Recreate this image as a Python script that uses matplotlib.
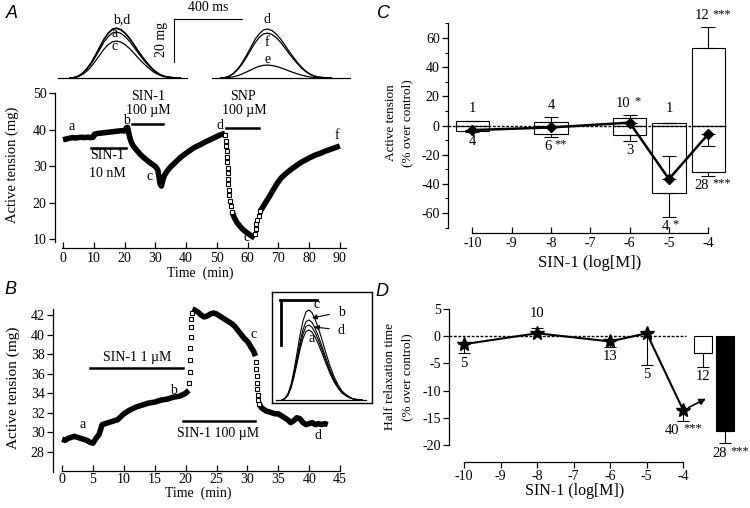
import matplotlib
matplotlib.use('Agg')
import matplotlib.pyplot as plt
import numpy as np

plt.rcParams['font.family'] = ['Liberation Serif', 'DejaVu Serif']
plt.rcParams['font.size'] = 10
plt.rcParams['axes.unicode_minus'] = False

# ---------------- data ----------------
# Panel A, top: normalised twitch shape (time in ms)
TW_T = [0, 25, 50, 75, 100, 125, 150, 175, 200, 225, 250, 275, 300, 325, 350,
        375, 400, 425, 450, 475, 500, 525, 550, 575, 600, 625, 650]
TW_V = [0, 0.01, 0.04, 0.10, 0.19, 0.31, 0.46, 0.62, 0.78, 0.90, 0.98, 1.0, 0.97,
        0.90, 0.80, 0.68, 0.55, 0.43, 0.32, 0.22, 0.14, 0.08, 0.04, 0.02, 0.01, 0.0, 0.0]
A_TW_LEFT_LABELS = ['a', 'b', 'c', 'd']
A_TW_LEFT_AMP = [21.4, 23.3, 17.2, 23.0]      # mg
A_TW_RIGHT_LABELS = ['d', 'f', 'e']
A_TW_RIGHT_AMP = [22.8, 20.9, 6.0]            # mg

# Panel A, main trace (time in min, active tension in mg)
A_t1 = [0, 1, 2, 3, 4, 5, 6, 7, 8, 9, 9.8, 10.2, 11, 12, 13, 14, 15, 16, 17, 18,
        19, 20, 20.6, 21.0, 21.5, 22.0, 22.5, 23, 24, 25, 26, 27, 28, 29, 30, 30.8,
        31.2, 31.6, 32.0, 32.4, 33, 34, 35, 36, 37, 38, 39, 40, 41, 42, 43, 44, 45,
        46, 47, 48, 49, 50, 51, 52, 52.7]
A_v1 = [37.2, 37.4, 37.6, 37.8, 37.7, 37.8, 37.9, 37.8, 37.9, 37.8, 37.9, 38.7,
        38.9, 39.0, 39.1, 39.2, 39.3, 39.4, 39.5, 39.6, 39.7, 39.6, 40.5, 40.6,
        38.5, 37.0, 36.0, 35.3, 34.3, 33.3, 32.5, 31.8, 31.1, 30.5, 29.9, 29.0,
        27.0, 25.0, 24.5, 26.0, 27.5, 28.8, 29.8, 30.6, 31.4, 32.2, 32.9, 33.5,
        34.1, 34.7, 35.2, 35.6, 36.0, 36.5, 36.9, 37.3, 37.7, 38.1, 38.5, 38.8, 39.0]
A_t2 = [52.8, 53.0, 53.1, 53.2, 53.3, 53.4, 53.5, 53.6, 53.7, 53.8, 53.9, 54.1,
        54.3, 54.6, 55.0]
A_v2 = [38.5, 37.0, 35.5, 34.0, 32.5, 31.0, 29.5, 28.0, 26.5, 25.0, 23.5, 22.0,
        20.5, 19.0, 17.5]
A_t3 = [55.0, 55.5, 56.5, 57.5, 58.5, 59.5, 60.5, 61.5, 62.3]
A_v3 = [17.5, 16.2, 14.6, 13.5, 12.6, 11.9, 11.3, 10.7, 10.3]
A_t4 = [62.5, 62.7, 62.9, 63.2, 63.6, 64.1]
A_v4 = [11.5, 12.8, 14.0, 15.2, 16.4, 17.6]
A_t5 = [64.1, 65, 66, 67, 68, 69, 70, 71, 72, 73, 74, 75, 76, 77, 78, 79, 80, 81,
        82, 83, 84, 85, 86, 87, 88, 89, 90]
A_v5 = [17.6, 18.8, 20.2, 21.5, 23.0, 24.4, 25.7, 26.8, 27.6, 28.3, 29.0, 29.6,
        30.2, 30.8, 31.3, 31.7, 32.2, 32.6, 33.0, 33.3, 33.6, 34.0, 34.3, 34.6,
        34.9, 35.2, 35.5]

# Panel B, main trace
B_t1 = [0, 0.5, 1, 1.5, 2, 2.5, 3, 3.5, 4, 4.5, 5, 5.5, 6, 6.5, 7, 8, 9, 10, 11,
        12, 13, 14, 15, 16, 17, 18, 19, 20, 20.5]
B_v1 = [29.3, 29.2, 29.4, 29.5, 29.6, 29.5, 29.4, 29.3, 29.2, 29.0, 28.9, 29.4,
        29.8, 30.8, 30.9, 31.1, 31.3, 31.9, 32.3, 32.6, 32.8, 33.0, 33.1, 33.3,
        33.4, 33.6, 33.7, 34.0, 34.3]
B_t2 = [20.6, 20.65, 20.7, 20.75, 20.8, 20.85, 20.9, 21.0]
B_v2 = [35.0, 36.2, 37.4, 38.6, 39.8, 40.8, 41.6, 42.2]
B_t3 = [21.1, 21.5, 22, 22.5, 23, 23.5, 24, 24.5, 25, 25.5, 26, 26.5, 27, 27.5,
        28, 28.5, 29, 29.5, 30, 30.5, 31, 31.3]
B_v3 = [42.6, 42.5, 42.3, 42.0, 41.8, 41.9, 42.1, 42.2, 42.1, 41.9, 41.7, 41.5,
        41.3, 41.1, 40.8, 40.4, 40.0, 39.6, 39.3, 38.8, 38.3, 37.8]
B_t4 = [31.4, 31.45, 31.5, 31.55, 31.6, 31.65, 31.7, 31.8]
B_v4 = [37.2, 36.5, 35.8, 35.1, 34.4, 33.8, 33.3, 32.9]
B_t5 = [31.9, 32.3, 33, 33.5, 34, 34.5, 35, 35.5, 36, 36.5, 37, 37.5, 38, 38.5,
        39, 39.5, 40, 40.5, 41, 41.5, 42, 42.5, 43]
B_v5 = [32.9, 32.5, 32.2, 32.1, 32.0, 31.9, 31.9, 31.7, 31.5, 31.3, 31.0, 31.2,
        31.5, 31.4, 31.0, 30.8, 30.9, 31.0, 30.8, 30.9, 30.8, 30.9, 30.8]

# Panel B inset: twitch shape and amplitudes (arbitrary units)
BI_T = [0, 3, 6, 9, 12, 15, 18, 21, 24, 27, 30, 33, 36, 40, 44, 48, 52, 56, 60,
        64, 68, 72, 76, 80]
BI_V = [0, 0.02, 0.07, 0.17, 0.33, 0.52, 0.72, 0.88, 0.98, 1.0, 0.97, 0.90, 0.81,
        0.67, 0.52, 0.38, 0.26, 0.17, 0.10, 0.06, 0.03, 0.01, 0.005, 0]
BI_LABELS = ['a', 'b', 'c', 'd']
BI_AMP = [70, 80, 90, 75]

# Panel C
C_x = [-10, -8, -6, -5, -4]
C_pos = [3.3, 2.6, 4.9, 1.9, 52.9]
C_pos_err = [0, 3.0, 2.3, 0, 14.4]
C_neg = [-3.6, -5.8, -6.5, -46.5, -32.1]
C_neg_err = [1.0, 1.9, 3.9, 16.0, 2.5]
C_line = [-3.1, -1.3, 2.0, -36.7, -5.8]
C_line_err_up = [0, 0, 0, 15.8, 0]
C_line_err_dn = [0, 0, 0, 0, 8.2]
C_n_pos = ['1', '4', '10 *', '1', '12 ***']
C_n_neg = ['4', '6 **', '3', '4 *', '28 ***']

# Panel D
D_x = [-10, -8, -6, -5, -4]
D_v = [-1.5, 0.5, -1.0, 0.5, -13.6]
D_err_dn = [1.7, 0, 1.0, 5.8, 1.9]
D_err_up = [0, 0.9, 0, 0, 0]
D_n = ['5', '10', '13', '5', '40 ***']
D_bar_x = [-3.46, -2.86]
D_bar_v = [-3.2, -17.4]
D_bar_err = [2.4, 2.3]
D_bar_n = ['12', '28 ***']

# ---------------- figure ----------------
W, H = 750, 508
fig = plt.figure(figsize=(W / 100, H / 100), dpi=100)


def pax(l, t, r, b):
    return fig.add_axes([l / W, 1 - b / H, (r - l) / W, (b - t) / H])


def style(ax, xb, yb, xdir='in', ydir='out', xpad=3):
    for s in ['top', 'right']:
        ax.spines[s].set_visible(False)
    ax.spines['left'].set_bounds(*yb)
    ax.spines['bottom'].set_bounds(*xb)
    for s in ['left', 'bottom']:
        ax.spines[s].set_linewidth(0.9)
    ax.tick_params(axis='x', direction=xdir, length=4, width=0.9, labelsize=10, pad=xpad)
    ax.tick_params(axis='y', direction=ydir, length=4, width=0.9, labelsize=10, pad=2)
    ax.patch.set_alpha(0)


def ftext(x, y, s, **kw):
    fig.text(x / W, 1 - y / H, s, ha='center', va='center', **kw)


def nlabel(ax, x, y, s, fs=10.5):
    """Sample size label; significance asterisks drawn small and raised."""
    if '*' in s:
        num, stars = s.split(' ')
        ax.annotate(num, xy=(x, y), xytext=(-1.2, 0), textcoords='offset points',
                    ha='right', va='center', fontsize=fs, annotation_clip=False)
        ax.annotate(stars, xy=(x, y), xytext=(1.2, 1.3), textcoords='offset points',
                    ha='left', va='center', fontsize=fs * 0.85, annotation_clip=False)
    else:
        ax.text(x, y, s, ha='center', va='center', fontsize=fs, clip_on=False)


letter_kw = dict(family=['Liberation Sans', 'DejaVu Sans'], style='italic', fontsize=13)

# ---- Panel A top: twitches ----
axT = pax(55, 0, 355, 85)
axT.set_xlim(0, 1765)
axT.set_ylim(-3.26, 36.3)
axT.axis('off')
left_on, right_on = 88, 976
axT.plot([18, 776], [0, 0], color='k', lw=0.9)
axT.plot([924, 1735], [0, 0], color='k', lw=0.9)
for amp in A_TW_LEFT_AMP:
    axT.plot(np.array(TW_T) + left_on, amp * np.array(TW_V), color='k', lw=0.9)
for amp in A_TW_RIGHT_AMP:
    axT.plot(np.array(TW_T) + right_on, amp * np.array(TW_V), color='k', lw=0.9)
axT.text(394, 27, 'b,d', ha='center', va='center', fontsize=10)
axT.text(353, 20.5, 'a', ha='center', va='center', fontsize=10)
axT.text(353, 14.6, 'c', ha='center', va='center', fontsize=10)
axT.text(1247, 27.4, 'd', ha='center', va='center', fontsize=10)
axT.text(1247, 16.3, 'f', ha='center', va='center', fontsize=10)
axT.text(1253, 8.6, 'e', ha='center', va='center', fontsize=10)
axT.plot([700, 700], [7.4, 27.4], color='k', lw=0.8)
axT.plot([700, 1100], [27.4, 27.4], color='k', lw=0.8)
axT.text(900, 33, '400 ms', ha='center', va='center', fontsize=10)
axT.text(629, 17.7, '20 mg', ha='center', va='center', rotation=90, fontsize=10)

# ---- Panel A main ----
axA = pax(55, 88, 350, 248)
axA.set_xlim(-2.6, 93.3)
axA.set_ylim(7.53, 51.4)
style(axA, (-0.3, 92), (9.2, 50))
axA.set_xticks(range(0, 91, 10))
axA.set_yticks(range(10, 51, 10))
for tt, vv in [(A_t1, A_v1), (A_t3, A_v3), (A_t5, A_v5)]:
    axA.plot(tt, vv, color='k', lw=4, solid_capstyle='butt')
for tt, vv in [(A_t2, A_v2), (A_t4, A_v4)]:
    axA.plot(tt, vv, ls='none', marker='s', ms=3.5, mfc='white', mec='k', mew=0.8)
for x, y, s in [(2.9, 40.9, 'a'), (20.5, 42.4, 'b'), (28.0, 27.0, 'c'),
                (51.0, 41.0, 'd'), (59.6, 10.4, 'c'), (89.0, 38.5, 'f')]:
    axA.text(x, y, s, ha='center', va='center', fontsize=10)
axA.plot([9, 20.5], [34.9, 34.9], color='k', lw=1.8)
axA.text(14.4, 32.8, 'SIN-1', ha='center', va='center')
axA.text(14.4, 28.0, '10 nM', ha='center', va='center')
axA.plot([22.4, 32.5], [41.5, 41.5], color='k', lw=1.8)
axA.text(27.7, 49.2, 'SIN-1', ha='center', va='center')
axA.text(27.8, 45.3, '100 µM', ha='center', va='center')
axA.plot([53, 63.6], [40.5, 40.5], color='k', lw=1.8)
axA.text(58.6, 49.2, 'SNP', ha='center', va='center')
axA.text(58.9, 45.3, '100 µM', ha='center', va='center')
ftext(12, 165, 'Active tension (mg)', rotation=90, fontsize=10.5)
ftext(200, 273, 'Time  (min)')
ftext(12, 13, 'A', **letter_kw)

# ---- Panel B main ----
axB = pax(53, 305, 350, 471)
axB.set_xlim(-1.46, 46.6)
axB.set_ylim(26.06, 43.02)
style(axB, (0, 45), (26.0, 42.6), xpad=1.5)
axB.set_xticks(range(0, 46, 5))
axB.set_yticks(range(28, 43, 2))
for tt, vv in [(B_t1, B_v1), (B_t3, B_v3), (B_t5, B_v5)]:
    axB.plot(tt, vv, color='k', lw=4, solid_capstyle='butt')
for tt, vv in [(B_t2, B_v2), (B_t4, B_v4)]:
    axB.plot(tt, vv, ls='none', marker='s', ms=3.5, mfc='white', mec='k', mew=0.8)
for x, y, s in [(3.4, 30.8, 'a'), (18.1, 34.3, 'b'), (31.0, 40.0, 'c'), (41.5, 29.7, 'd')]:
    axB.text(x, y, s, ha='center', va='center', fontsize=10)
axB.plot([4.5, 19.6], [36.6, 36.6], color='k', lw=1.8)
axB.text(12.1, 37.7, 'SIN-1 1 µM', ha='center', va='center')
axB.plot([19.5, 31.2], [31.2, 31.2], color='k', lw=1.8)
axB.text(25.3, 29.9, 'SIN-1 100 µM', ha='center', va='center')
ftext(13, 388, 'Active tension (mg)', rotation=90, fontsize=11)
ftext(198, 493, 'Time  (min)')
ftext(10, 290, 'B', **letter_kw)

# ---- Panel B inset ----
axI = pax(272, 292, 372, 403)
axI.set_xlim(0, 100)
axI.set_ylim(0, 111)
axI.set_xticks([])
axI.set_yticks([])
for s in axI.spines.values():
    s.set_linewidth(1.0)
axI.plot([4, 94], [3, 3], color='k', lw=0.9)
for amp in BI_AMP:
    axI.plot(np.array(BI_T) + 10, 3 + amp * np.array(BI_V), color='k', lw=0.8)
axI.plot([8, 45], [103, 103], color='k', lw=2)
axI.plot([9, 9], [58, 103], color='k', lw=2)
axI.text(45, 98, 'c', ha='center', va='center', fontsize=10)
axI.text(40, 65, 'a', ha='center', va='center', fontsize=10)
axI.annotate('b', xy=(40, 85), xytext=(69, 91), ha='center', va='center', fontsize=10,
             arrowprops=dict(arrowstyle='-|>', color='k', lw=0.8, mutation_scale=7,
                             shrinkA=4, shrinkB=0))
axI.annotate('d', xy=(42, 76), xytext=(69, 73), ha='center', va='center', fontsize=10,
             arrowprops=dict(arrowstyle='-|>', color='k', lw=0.8, mutation_scale=7,
                             shrinkA=4, shrinkB=0))

# ---- Panel C ----
axC = pax(448, 20, 735, 233)
axC.set_xlim(-10.62, -3.32)
axC.set_ylim(-73.7, 72.4)
style(axC, (-10, -4), (-70, 70))
axC.set_xticks(range(-10, -3))
axC.set_yticks(range(-60, 61, 20))
axC.set_yticks(range(-70, 71, 10), minor=True)
axC.tick_params(axis='y', which='minor', direction='out', length=2, width=0.8)
zeros = [0] * len(C_x)
axC.bar(C_x, C_pos, width=0.85, color='white', edgecolor='k', lw=0.8, zorder=2)
axC.bar(C_x, C_neg, width=0.85, color='white', edgecolor='k', lw=0.8, zorder=2)
axC.errorbar(C_x, C_pos, yerr=[zeros, C_pos_err], fmt='none', ecolor='k',
             elinewidth=0.8, capsize=5, capthick=0.8, zorder=3)
axC.errorbar(C_x, C_neg, yerr=[C_neg_err, zeros], fmt='none', ecolor='k',
             elinewidth=0.8, capsize=5, capthick=0.8, zorder=3)
axC.axhline(0, xmin=0, xmax=0.97, color='k', lw=1, ls=(0, (2, 1.2)), zorder=4)
axC.errorbar(C_x, C_line, yerr=[C_line_err_dn, C_line_err_up], fmt='none', ecolor='k',
             elinewidth=0.8, capsize=5, capthick=0.8, zorder=5)
axC.plot(C_x, C_line, color='k', lw=1.8, marker='D', ms=5.5, zorder=6)
for x, p, pe, s in zip(C_x, C_pos, C_pos_err, C_n_pos):
    nlabel(axC, x + (0.07 if '*' in s else 0), max(p + pe, 4) + 8, s)
for x, n, ne, s in zip(C_x, C_neg, C_neg_err, C_n_neg):
    nlabel(axC, x + (0.05 if '*' in s else 0), n - ne - 6.5, s)
fig.text(391 / W, 1 - 123 / H, 'Active tension', rotation=90, ha='center', va='center',
         fontsize=9.5)
fig.text(407 / W, 1 - 123 / H, '(% over control)', rotation=90, ha='center', va='center',
         fontsize=9.5)
ftext(590, 263, 'SIN-1 (log[M])', fontsize=12)
ftext(383, 14, 'C', **letter_kw)

# ---- Panel D ----
axD = pax(449, 300, 745, 462)
axD.set_xlim(-10.41, -2.31)
axD.set_ylim(-23.1, 6.6)
style(axD, (-10, -4), (-20, 5), xdir='out', ydir='out', xpad=1.5)
axD.set_xticks(range(-10, -3))
axD.set_yticks(range(-20, 6, 5))
axD.axhline(0, xmin=0, xmax=0.8, color='k', lw=1, ls=(0, (2, 1.2)), zorder=1)
axD.bar(D_bar_x, D_bar_v, width=0.5, color=['white', 'black'], edgecolor='k', lw=0.8,
        zorder=2)
axD.errorbar(D_bar_x, D_bar_v, yerr=[D_bar_err, [0, 0]], fmt='none', ecolor='k',
             elinewidth=0.8, capsize=4.5, capthick=0.8, zorder=3)
axD.errorbar(D_x, D_v, yerr=[D_err_dn, D_err_up], fmt='none', ecolor='k',
             elinewidth=0.8, capsize=4.5, capthick=0.8, zorder=3)
axD.plot(D_x, D_v, color='k', lw=1.5, marker='*', ms=10, zorder=4)
for x, v, dn, up, s in zip(D_x, D_v, D_err_dn, D_err_up, D_n):
    if up > 0:
        nlabel(axD, x, v + up + 2.8, s)
    else:
        nlabel(axD, x + (-0.05 if '*' in s else 0), v - dn - 1.8, s)
for x, v, e, s in zip(D_bar_x, D_bar_v, D_bar_err, D_bar_n):
    nlabel(axD, x + (0.1 if '*' in s else 0), v - e - 1.8, s)
axD.annotate('', xy=(-3.38, -11.5), xytext=(-3.85, -13.1),
             arrowprops=dict(arrowstyle='-|>', color='k', lw=1.2, mutation_scale=9,
                             shrinkA=0, shrinkB=0))
fig.text(390 / W, 1 - 377 / H, 'Half relaxation time', rotation=90, ha='center',
         va='center', fontsize=9.5)
fig.text(407 / W, 1 - 377 / H, '(% over control)', rotation=90, ha='center', va='center',
         fontsize=9.5)
ftext(575, 491, 'SIN-1 (log[M])', fontsize=11.5)
ftext(382, 291, 'D', **letter_kw)

fig.savefig('out.png', dpi=100)
